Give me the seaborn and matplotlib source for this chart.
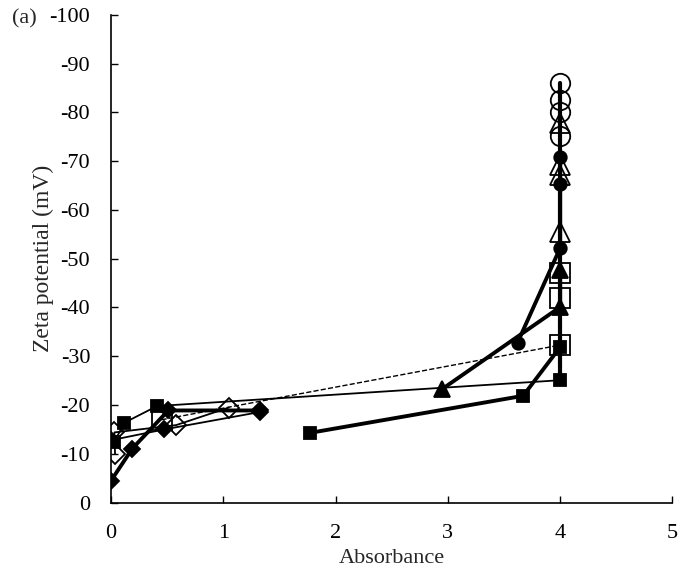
import numpy as np
import pandas as pd
import seaborn as sns
from matplotlib import pyplot as plt

# absorbance / zeta potential (mV)
sq_thin_x = [0.03, 0.12, 0.41, 4.0]
sq_thin_y = [-12.5, -16.4, -19.8, -25.1]
sq_thick_x = [1.77, 3.67, 4.0]
sq_thick_y = [-14.3, -21.9, -31.9]
tri_x = [2.95, 4.0, 4.0]
tri_y = [-23.3, -40.1, -47.7]
circ_x = [3.62, 4.0, 4.0, 4.0]
circ_y = [-32.8, -52.2, -65.4, -70.8]
osq_x = [0.45, 4.0, 4.0, 4.0]
osq_y = [-17.0, -32.3, -42.0, -47.1]
otri_x = [4.0, 4.0, 4.0, 4.0]
otri_y = [-55.5, -67.2, -69.2, -77.9]
ocirc_x = [4.0, 4.0, 4.0, 4.0, 4.0]
ocirc_y = [-25.1, -75.1, -80.1, -82.5, -86.1]
dia_thick_x = [0.0, 0.19, 0.51, 1.33]
dia_thick_y = [-4.5, -11.1, -18.9, -18.9]
dia_thin_x = [0.0, 0.47, 1.33]
dia_thin_y = [-12.8, -15.0, -18.6]
odia_x = [0.036, 0.03, 0.58, 1.05]
odia_y = [-10.0, -14.4, -15.9, -19.5]

sns.set_style("ticks")
plt.rcParams["font.family"] = ["Liberation Serif", "DejaVu Serif"]
plt.rcParams["axes.unicode_minus"] = False

fig = plt.figure(figsize=(6.81, 5.79), dpi=100)
ax = fig.add_axes([0.163, 0.1318, 0.8245, 0.8428])

def draw(x, y, marker, ms, lw, filled=True, ls="-", mew=1.3):
    sns.lineplot(x=x, y=y, sort=False, estimator=None, ax=ax, color="black",
                 marker=marker, markersize=ms, linewidth=lw, linestyle=ls,
                 markerfacecolor="black" if filled else "none",
                 markeredgecolor="black", markeredgewidth=mew)

draw(ocirc_x, ocirc_y, "o", 0, 3.0)
draw(ocirc_x[1:], ocirc_y[1:], "o", 14, 0, filled=False)
draw(otri_x, otri_y, "^", 15, 1.5, filled=False)
draw(osq_x, osq_y, "s", 14, 1.0, filled=False, ls="--")
draw(odia_x, odia_y, "D", 10, 1.3, filled=False)
draw(sq_thin_x, sq_thin_y, "s", 9, 1.3)
draw(sq_thick_x, sq_thick_y, "s", 9, 2.8)
draw(tri_x, tri_y, "^", 11, 2.8)
draw(circ_x, circ_y, "o", 9, 2.8)
draw(dia_thick_x, dia_thick_y, "D", 8, 2.8)
draw(dia_thin_x, dia_thin_y, "D", 8, 1.3)

ax.set_xlim(0, 5)
ax.set_ylim(0, -100)
ax.set_xticks(range(0, 6))
ax.set_yticks(range(0, -101, -10))
ax.tick_params(direction="in", length=5, width=1, labelsize=16, colors="black")
ax.tick_params(axis="y", pad=15)
ax.tick_params(axis="x", pad=15)
sns.despine(ax=ax)
for s in ["left", "bottom"]:
    ax.spines[s].set_color("black")
    ax.spines[s].set_linewidth(1.2)
ax.set_xlabel("Absorbance", fontsize=16, labelpad=5)
ax.set_ylabel("Zeta potential (mV)", fontsize=17, labelpad=-3)
fig.text(0.017, 0.967, "(a)", fontsize=16, va="center")

fig.savefig("out.png", dpi=100)
